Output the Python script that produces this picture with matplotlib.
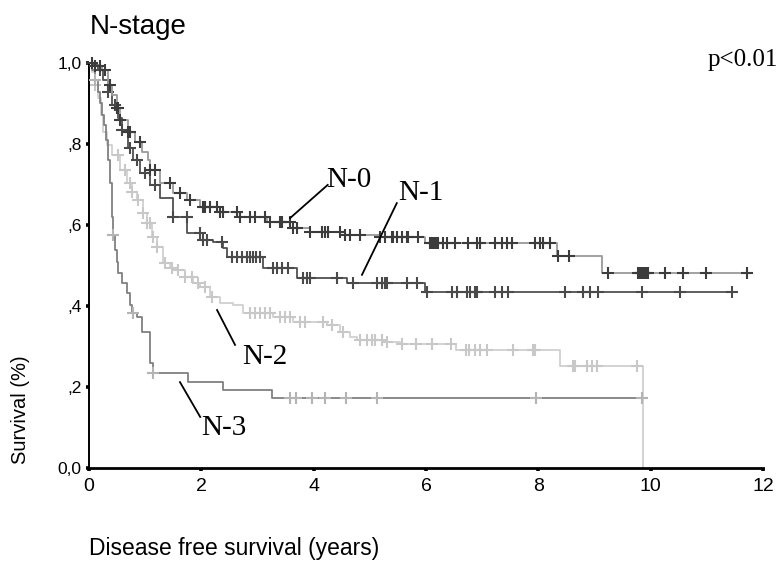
import numpy as np
import matplotlib
matplotlib.use('Agg')
import matplotlib.pyplot as plt

# Kaplan-Meier curves (time in years, survival fraction)
n0_time = [0, 0.11, 0.23, 0.34, 0.41, 0.50, 0.55, 0.69, 0.82, 0.94, 1.05, 1.09, 1.26,
           1.50, 1.74, 1.98, 2.33, 2.69, 3.17, 3.63, 3.93, 4.56, 5.18, 5.98, 8.33, 9.13]
n0_surv = [1.0, 0.993, 0.983, 0.946, 0.921, 0.889, 0.859, 0.830, 0.805, 0.780, 0.760, 0.736, 0.704,
           0.679, 0.662, 0.644, 0.632, 0.620, 0.607, 0.593, 0.583, 0.575, 0.570, 0.556, 0.523, 0.481]
n0_end = 11.71
n0_cens = [0.05, 0.11, 0.20, 0.28, 0.37, 0.50, 0.52, 0.55, 0.69, 0.73, 0.91, 1.09, 1.18, 1.44,
           1.62, 1.80, 2.03, 2.07, 2.15, 2.28, 2.33, 2.39, 2.63, 2.69, 2.87, 2.96, 3.13, 3.22,
           3.40, 3.44, 3.58, 3.63, 3.70, 3.93, 4.15, 4.20, 4.25, 4.47, 4.56, 4.65, 4.82, 5.18,
           5.27, 5.39, 5.41, 5.48, 5.57, 5.66, 5.68, 5.86, 6.07, 6.11, 6.14, 6.18, 6.21, 6.30,
           6.37, 6.52, 6.75, 6.91, 6.96, 7.23, 7.35, 7.44, 7.53, 7.94, 8.03, 8.08, 8.21, 8.35,
           8.55, 9.24, 9.77, 9.81, 9.84, 9.88, 9.92, 9.95, 10.25, 10.58, 10.98, 11.71]

n1_time = [0, 0.07, 0.16, 0.25, 0.34, 0.41, 0.52, 0.59, 0.69, 0.78, 0.91, 1.09, 1.26, 1.50,
           1.75, 2.03, 2.21, 2.39, 2.46, 3.10, 3.70, 4.59, 5.98]
n1_surv = [1.0, 0.995, 0.983, 0.958, 0.928, 0.896, 0.864, 0.835, 0.790, 0.760, 0.728, 0.699,
           0.667, 0.620, 0.580, 0.563, 0.558, 0.543, 0.521, 0.494, 0.469, 0.457, 0.435]
n1_end = 11.54
n1_cens = [0.20, 0.34, 0.46, 0.59, 0.73, 0.85, 1.00, 1.18, 1.50, 1.74, 1.98, 2.03, 2.10, 2.37,
           2.55, 2.63, 2.72, 2.81, 2.87, 2.92, 2.97, 3.04, 3.28, 3.35, 3.44, 3.54, 3.81, 3.88,
           3.93, 4.42, 4.70, 5.13, 5.22, 5.27, 5.31, 5.66, 5.84, 6.02, 6.46, 6.55, 6.73, 6.78,
           6.87, 6.91, 7.23, 7.35, 7.46, 8.47, 8.79, 8.92, 9.06, 9.84, 10.52, 11.45]

n2_time = [0, 0.05, 0.11, 0.16, 0.21, 0.25, 0.32, 0.41, 0.55, 0.68, 0.77, 0.86, 0.96, 1.03,
           1.12, 1.21, 1.32, 1.44, 1.57, 1.71, 1.85, 1.98, 2.15, 2.33, 2.56, 2.74, 3.28, 3.63,
           4.24, 4.47, 4.65, 4.77, 5.31, 5.54, 6.53, 8.39, 9.86]
n2_surv = [1.0, 0.978, 0.946, 0.914, 0.872, 0.830, 0.798, 0.773, 0.736, 0.704, 0.681, 0.662,
           0.630, 0.605, 0.570, 0.546, 0.506, 0.494, 0.489, 0.472, 0.457, 0.447, 0.422, 0.407,
           0.402, 0.383, 0.373, 0.360, 0.353, 0.336, 0.323, 0.316, 0.311, 0.306, 0.291, 0.252, 0.0]
n2_end = 9.86
n2_cens = [0.11, 0.52, 0.64, 0.73, 0.77, 0.87, 0.96, 1.03, 1.09, 1.14, 1.21, 1.35, 1.48, 1.58,
           1.71, 1.83, 1.94, 2.07, 2.19, 2.87, 2.96, 3.04, 3.13, 3.22, 3.40, 3.49, 3.58, 3.76,
           3.85, 4.17, 4.33, 4.52, 4.82, 4.95, 5.04, 5.09, 5.22, 5.31, 5.57, 5.82, 6.11, 6.44,
           6.71, 6.77, 6.87, 6.96, 7.09, 7.55, 7.90, 7.94, 8.62, 8.65, 8.87, 8.96, 9.04, 9.76]

n3_time = [0, 0.05, 0.11, 0.16, 0.20, 0.23, 0.27, 0.30, 0.34, 0.37, 0.41, 0.43, 0.46, 0.50,
           0.52, 0.59, 0.68, 0.73, 0.77, 0.86, 0.94, 1.09, 1.14, 1.76, 2.39, 3.26]
n3_surv = [1.0, 0.983, 0.958, 0.928, 0.901, 0.872, 0.847, 0.810, 0.760, 0.704, 0.620, 0.575,
           0.538, 0.509, 0.481, 0.457, 0.432, 0.402, 0.383, 0.373, 0.336, 0.259, 0.235, 0.212,
           0.193, 0.173]
n3_end = 9.86
n3_cens = [0.11, 0.43, 0.78, 1.14, 3.58, 3.69, 3.97, 4.20, 4.58, 5.13, 7.96, 9.85]

x_ticks = [0, 2, 4, 6, 8, 10, 12]
y_ticks = [0.0, 0.2, 0.4, 0.6, 0.8, 1.0]
y_ticklabels = ['0,0', ',2', ',4', ',6', ',8', '1,0']

SANS = ['Liberation Sans', 'DejaVu Sans']
NARROW = ['Liberation Sans Narrow', 'Liberation Sans', 'DejaVu Sans']
SERIF = ['Liberation Serif', 'DejaVu Serif']


def surv_at(times, surv, t):
    idx = np.searchsorted(times, t, side='right') - 1
    return np.asarray(surv)[idx]


def km_plot(ax, times, surv, end, cens, line_c, mark_c, z):
    t = np.r_[times, end]
    s = np.r_[surv, surv[-1]]
    ax.step(t, s, where='post', color=line_c, lw=1.3, zorder=z, clip_on=False)
    c = np.asarray(cens)
    ax.plot(c, surv_at(times, surv, c), ls='none', marker='+', ms=9,
            mew=1.5, color=mark_c, zorder=z + 0.5, clip_on=False)


fig = plt.figure(figsize=(7.84, 5.65), dpi=100)
ax = fig.add_axes([89 / 784, 97 / 565, 674 / 784, 405 / 565])

km_plot(ax, n2_time, n2_surv, n2_end, n2_cens, '#d0d0d0', '#c8c8c8', 2)
km_plot(ax, n3_time, n3_surv, n3_end, n3_cens, '#808080', '#b4b4b4', 3)
km_plot(ax, n1_time, n1_surv, n1_end, n1_cens, '#505050', '#4a4a4a', 4)
km_plot(ax, n0_time, n0_surv, n0_end, n0_cens, '#9a9a9a', '#3c3c3c', 5)

ax.set_xlim(0, 12)
ax.set_ylim(0, 1)
ax.set_xticks(x_ticks)
ax.set_yticks(y_ticks)
ax.set_yticklabels(y_ticklabels, fontfamily=SANS, fontsize=12.5)
ax.set_xticklabels([str(v) for v in x_ticks], fontfamily=NARROW, fontsize=14)
ax.tick_params(direction='out', length=2.5, width=2.6, color='black', pad=3)
ax.tick_params(axis='x', pad=5)
for side in ['top', 'right']:
    ax.spines[side].set_visible(False)
ax.spines['left'].set_linewidth(1.4)
ax.spines['bottom'].set_linewidth(2)

# group labels with leader lines
labels = [('N-0', 4.63, 0.711, (3.58, 4.25), (0.617, 0.699)),
          ('N-1', 5.91, 0.679, (4.86, 5.48), (0.477, 0.654)),
          ('N-2', 3.13, 0.274, (2.28, 2.60), (0.390, 0.304)),
          ('N-3', 2.40, 0.099, (1.62, 1.98), (0.212, 0.126))]
for txt, tx, ty, lx, ly in labels:
    ax.plot(lx, ly, color='black', lw=1.3, zorder=6)
    ax.text(tx, ty, txt, fontfamily=SERIF, fontsize=21, ha='center', va='center', zorder=7)

fig.text(743 / 784, 1 - 60 / 565, 'p<0.01', fontfamily=SERIF, fontsize=18,
         ha='center', va='center')
fig.text(90 / 784, 1 - 27 / 565, 'N-stage', fontfamily=SANS, fontsize=20,
         ha='left', va='center')
fig.text(21 / 784, 1 - 410 / 565, 'Survival (%)', fontfamily=SANS, fontsize=14.5,
         rotation=90, ha='center', va='center')
fig.text(89 / 784, 1 - 548 / 565, 'Disease free survival (years)', fontfamily=SANS,
         fontsize=16.5, ha='left', va='center')

fig.savefig('out.png', dpi=100)
